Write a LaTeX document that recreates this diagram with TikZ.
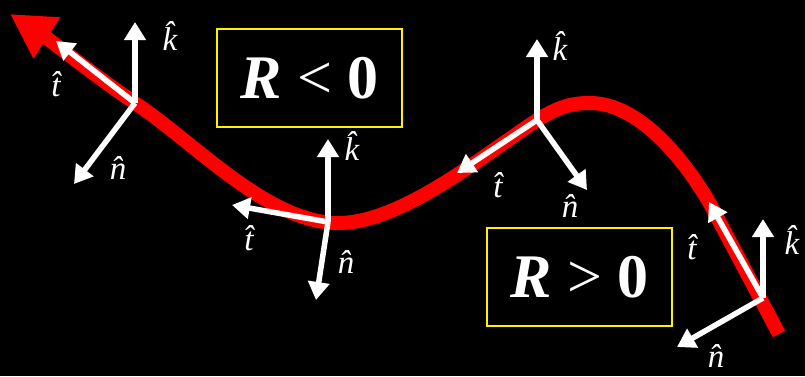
\documentclass[tikz,border=0pt]{standalone}
\usepackage{fontspec}
\setmainfont{Liberation Serif}
\usetikzlibrary{arrows.meta, positioning}

\begin{document}
\begin{tikzpicture}[x=1pt, y=-1pt,
  vec/.style={white, line width=5.5pt, -{Triangle[length=18pt,width=21pt]}},
  lbl/.style={white, font=\fontsize{33}{35}\selectfont\itshape, inner sep=0pt},
  rbox/.style={draw=yellow, line width=1.6pt, minimum width=185pt, minimum height=98pt,
               text=white, font=\fontsize{62}{64}\selectfont}]

% Background
\fill[black] (0,0) rectangle (805,376);
\useasboundingbox (0,0) rectangle (805,376);

% Curve
\draw[red, line width=14pt, -{Triangle[length=44pt,width=46pt]}]
  (779,334) -- (709,202) .. controls (675,145) and (632,103) .. (590,103)
  .. controls (572,103) and (560,106) .. (537,120)
  .. controls (477,160) and (400,223) .. (338,223)
  .. controls (268,223) and (195,143) .. (135,103)
  .. controls (95,76) and (50,40) .. (10,14);

% Sign boxes
\node[rbox] (neg) at (309.5,78) {\textbf{\textit{R}} < \textbf{0}};
\node[rbox] (pos) at (579.5,277) {\textbf{\textit{R}} > \textbf{0}};

% Frame points and vector tips
\coordinate (o1) at (135,103);
\coordinate (k1) at (135,22);
\coordinate (t1) at (56,41);
\coordinate (n1) at (74,184);

\coordinate (o2) at (328,222);
\coordinate (k2) at (328,139);
\coordinate (t2) at (232,205);
\coordinate (n2) at (316,300);

\coordinate (o3) at (537,120);
\coordinate (k3) at (537,39);
\coordinate (t3) at (457,173);
\coordinate (n3) at (587,190);

\coordinate (o4) at (763,298);
\coordinate (k4) at (763,219);
\coordinate (t4) at (709,202);
\coordinate (n4) at (677,347);

% Vectors
\foreach \i in {1,2,3,4} {
  \draw[vec] (o\i) -- (t\i);
  \draw[vec] (o\i) -- (k\i);
  \draw[vec] (o\i) -- (n\i);
}

% Labels
\node[lbl] (lk1) at (170,36) {\^{k}};
\node[lbl] (lt1) at (56,84) {\^{t}};
\node[lbl] (ln1) at (118,168) {\^{n}};

\node[lbl] (lk2) at (352,146) {\^{k}};
\node[lbl] (lt2) at (249,238) {\^{t}};
\node[lbl] (ln2) at (346,262) {\^{n}};

\node[lbl] (lk3) at (560,46) {\^{k}};
\node[lbl] (lt3) at (498,185) {\^{t}};
\node[lbl] (ln3) at (570,206) {\^{n}};

\node[lbl] (lk4) at (792,240) {\^{k}};
\node[lbl] (lt4) at (692,247) {\^{t}};
\node[lbl] (ln4) at (716,356) {\^{n}};

\end{tikzpicture}
\end{document}
